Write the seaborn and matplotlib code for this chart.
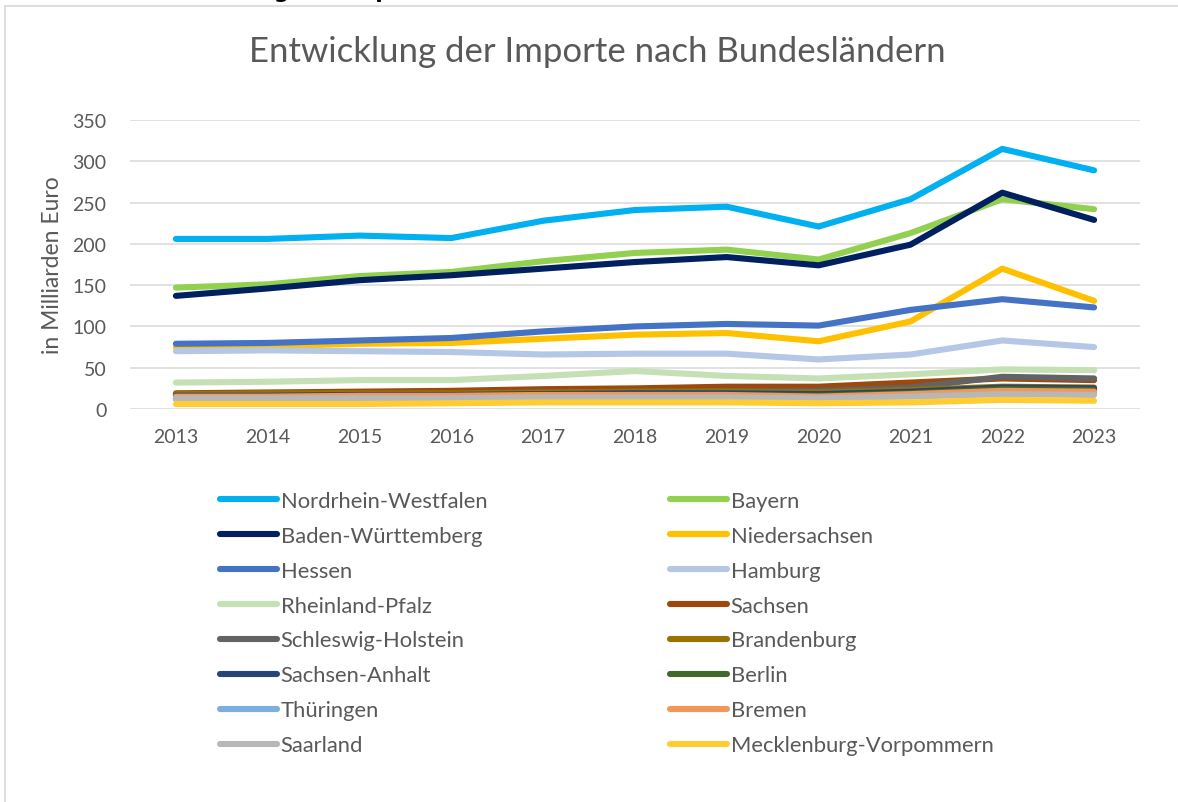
import numpy as np
import pandas as pd
import seaborn as sns
import matplotlib.pyplot as plt
from matplotlib.lines import Line2D
from matplotlib.patches import Rectangle

years = list(range(2013, 2024))

states = [
    "Nordrhein-Westfalen", "Bayern", "Baden-Württemberg", "Niedersachsen",
    "Hessen", "Hamburg", "Rheinland-Pfalz", "Sachsen", "Schleswig-Holstein",
    "Brandenburg", "Sachsen-Anhalt", "Berlin", "Thüringen", "Bremen",
    "Saarland", "Mecklenburg-Vorpommern",
]

nrw = [206, 206, 210, 207, 228, 241, 245, 221, 254, 315, 289]
bayern = [147, 151, 161, 166, 179, 189, 193, 181, 213, 254, 242]
bw = [137, 146, 156, 162, 170, 178, 184, 174, 199, 262, 229]
nds = [75, 76, 79, 80, 85, 90, 92, 82, 106, 170, 131]
hessen = [79, 80, 83, 86, 94, 100, 103, 101, 120, 133, 123]
hamburg = [70, 71, 70, 69, 66, 67, 67, 60, 66, 83, 75]
rlp = [32, 33, 35, 35, 40, 46, 40, 37, 42, 48, 47]
sachsen = [19, 20, 21, 22, 24, 25, 27, 27, 32, 37, 35]
sh = [17, 17, 18, 18, 20, 21, 22, 22, 26, 39, 37]
brandenburg = [18, 19, 19, 19, 20, 21, 21, 20, 23, 27, 26]
sachsen_anhalt = [16, 16, 17, 17, 18, 19, 19, 18, 21, 26, 25]
berlin = [13, 14, 14, 15, 16, 17, 17, 16, 19, 24, 23]
thueringen = [12, 12, 13, 13, 14, 15, 15, 14, 16, 19, 19]
bremen = [15, 15, 16, 16, 17, 17, 17, 15, 18, 22, 21]
saarland = [13, 13, 13, 13, 14, 14, 14, 13, 15, 18, 17]
mv = [6, 6, 6, 7, 8, 8, 8, 7, 8, 11, 10]

values = [nrw, bayern, bw, nds, hessen, hamburg, rlp, sachsen, sh,
          brandenburg, sachsen_anhalt, berlin, thueringen, bremen, saarland, mv]

colors = ["#00B0F0", "#92D050", "#002060", "#FFC000", "#4472C4", "#B4C7E7",
          "#C5E0B4", "#9E480E", "#636363", "#997300", "#264478", "#43682B",
          "#7CAFDD", "#F1975A", "#B7B7B7", "#FFCD33"]
palette = dict(zip(states, colors))

df = pd.DataFrame({
    "Jahr": np.tile(years, len(states)),
    "Bundesland": np.repeat(states, len(years)),
    "Wert": np.concatenate(values),
})

sns.set_theme(style="white")
plt.rcParams["font.family"] = ["Lato", "DejaVu Sans"]
text_col = "#595959"

W, H = 1178, 803
fig = plt.figure(figsize=(W / 100, H / 100), dpi=100)

# outer chart frame
fig.patches.append(Rectangle((5 / W, -0.1), 1.2, 1 - 7 / H + 0.1, transform=fig.transFigure,
                             fill=False, edgecolor="#D9D9D9", linewidth=1.2))

# heading of the page, cut off by the top edge in the original
fig.text(142 / W, 1 + 1.5 / H, "Entwicklung der Importe nach Bundesländern",
         fontsize=15.5, fontweight="bold", color="black", va="baseline", ha="left",
         family=["DejaVu Sans"])

ax = fig.add_axes([130 / W, 1 - 410 / H, 1010 / W, 289 / H])
sns.lineplot(data=df, x="Jahr", y="Wert", hue="Bundesland", hue_order=states,
             palette=palette, linewidth=4.4, ax=ax, legend=False,
             solid_capstyle="round", solid_joinstyle="round")

ax.set_xlim(2012.5, 2023.5)
ax.set_ylim(0, 350)
ax.set_xticks(years)
ax.set_yticks(range(0, 351, 50))
ax.grid(axis="y", color="#D9D9D9", linewidth=1.1)
ax.set_axisbelow(True)
for s in ax.spines.values():
    s.set_visible(False)
ax.tick_params(axis="both", length=0, labelsize=14, labelcolor=text_col)
ax.tick_params(axis="x", pad=14)
ax.tick_params(axis="y", pad=17)
ax.set_xlabel("")
ax.set_ylabel("in Milliarden Euro", fontsize=16.5, color=text_col, labelpad=7)

fig.text(597 / W, 1 - 52 / H, "Entwicklung der Importe nach Bundesländern",
         fontsize=25, color=text_col, ha="center", va="center")

# legend: two columns, filled row by row like the original
handles = [Line2D([0], [0], color=palette[s], linewidth=4.4, solid_capstyle="round")
           for s in states]
order = list(range(0, len(states), 2)) + list(range(1, len(states), 2))
leg = fig.legend([handles[i] for i in order], [states[i] for i in order],
                 ncol=2, loc="upper left", bbox_to_anchor=(200 / W, 1 - 472 / H),
                 frameon=False, fontsize=15.8, handlelength=2.6, handletextpad=0.18,
                 columnspacing=8.3, labelspacing=0.68)
for t in leg.get_texts():
    t.set_color(text_col)

fig.savefig("out.png", dpi=100)
